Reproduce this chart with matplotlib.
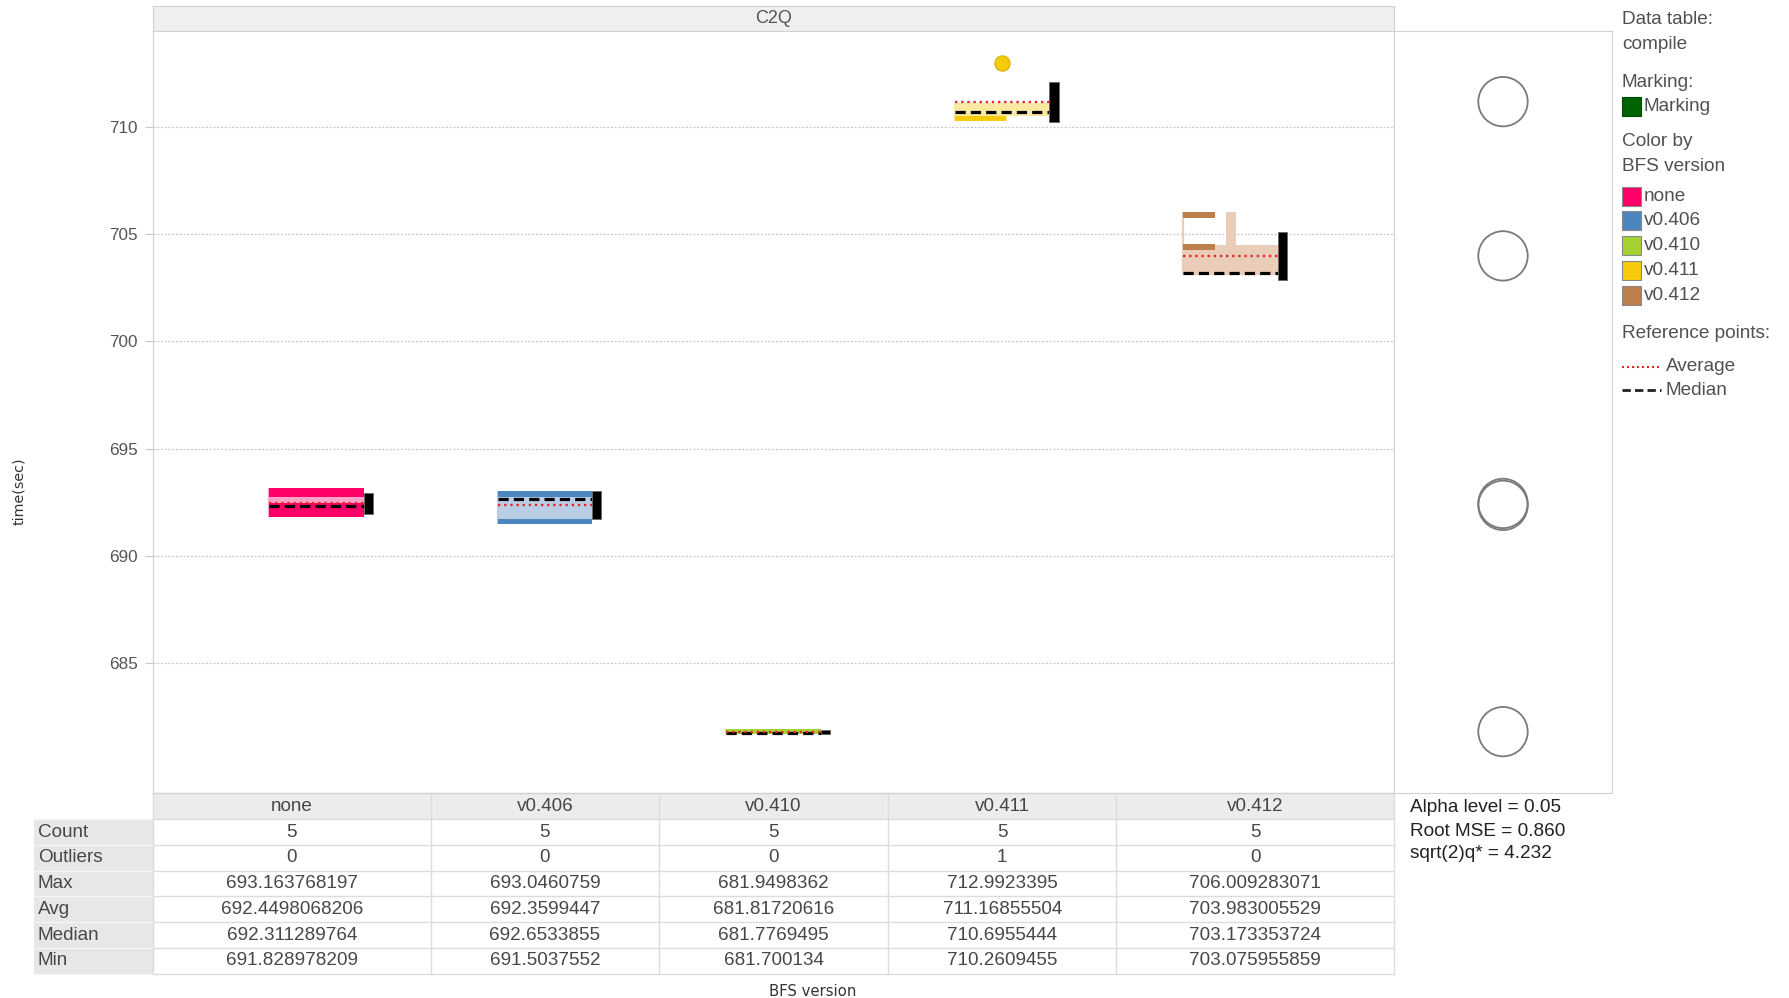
import numpy as np
import matplotlib
matplotlib.use("Agg")
import matplotlib.pyplot as plt
from matplotlib.patches import Rectangle, Circle
from matplotlib.lines import Line2D

plt.rcParams['font.family'] = ['Liberation Sans', 'DejaVu Sans']

W, H, DPI = 1790, 998, 100

# ---- data -----------------------------------------------------------------
versions = ["none", "v0.406", "v0.410", "v0.411", "v0.412"]
counts = [5, 5, 5, 5, 5]
outlier_counts = [0, 0, 0, 1, 0]
max_vals = [693.163768197, 693.0460759, 681.9498362, 712.9923395, 706.009283071]
avg_vals = [692.4498068206, 692.3599447, 681.81720616, 711.16855504, 703.983005529]
median_vals = [692.311289764, 692.6533855, 681.7769495, 710.6955444, 703.173353724]
min_vals = [691.828978209, 691.5037552, 681.700134, 710.2609455, 703.075955859]

# box body and whisker ends
box_low = [692.45, 691.72, 681.74, 710.50, 703.08]
box_high = [692.74, 692.74, 681.86, 711.12, 704.47]
upper_adjacent = [693.163768197, 693.0460759, 681.9498362, 711.12, 706.009283071]
outlier_vals = [[], [], [], [712.9923395], []]
# shaded value bands: (low, high, share of box width from its left edge)
value_bands = [
    [(691.83, 692.45, 1.0), (692.74, 693.16, 1.0)],
    [(691.50, 691.72, 1.0), (692.74, 693.05, 1.0)],
    [(681.70, 681.95, 1.0)],
    [(710.26, 710.50, 0.54)],
    [(704.27, 704.52, 0.33), (705.76, 706.01, 0.33)],
]
# half length of the black confidence bar around each mean
mean_ci_half = [0.47, 0.65, 0.09, 0.93, 1.12]

alpha_level = 0.05
root_mse = 0.860
sqrt2_q = 4.232

y_ticks = [685, 690, 695, 700, 705, 710]
row_names = ["Count", "Outliers", "Max", "Avg", "Median", "Min"]

main_colors = ["#FF0068", "#4C86BF", "#A6D132", "#F5CB0C", "#BD7F4C"]
light_colors = ["#FFA3C8", "#B9CEE5", "#C9E27A", "#FBE8A3", "#E9CDB8"]

# ---- helpers ----------------------------------------------------------------
fig = plt.figure(figsize=(W / DPI, H / DPI), dpi=DPI)


def rect_px(x0, y0, x1, y1):
    """Figure-fraction rectangle from pixel edges (y measured from top)."""
    return [x0 / W, 1 - y1 / H, (x1 - x0) / W, (y1 - y0) / H]


def ftext(x, y, s, **kw):
    kw.setdefault("va", "center")
    kw.setdefault("ha", "left")
    fig.text(x / W, 1 - y / H, s, **kw)


BORDER = "#D2D2D2"
TXT = "#474747"
TFS = 13.6

PLOT_L, PLOT_R, PLOT_T, PLOT_B = 153, 1394, 30.8, 793.4
XLIM = (-0.714, 4.714)
YLIM = (678.94, 714.47)
hw = 0.207

# ---- title strip --------------------------------------------------------------
ax_title = fig.add_axes(rect_px(PLOT_L, 5.7, PLOT_R, PLOT_T))
ax_title.set_facecolor("#EFEFEF")
ax_title.set_xticks([]); ax_title.set_yticks([])
for sp in ax_title.spines.values():
    sp.set_color(BORDER)
ax_title.text(0.5, 0.5, "C2Q", ha="center", va="center", fontsize=13,
              color="#555555", transform=ax_title.transAxes)

# ---- main box plot ------------------------------------------------------------
ax = fig.add_axes(rect_px(PLOT_L, PLOT_T, PLOT_R, PLOT_B))
ax.set_xlim(*XLIM)
ax.set_ylim(*YLIM)
ax.set_xticks([])
ax.set_yticks(y_ticks)
ax.set_yticklabels([str(t) for t in y_ticks])
ax.tick_params(axis="y", length=6, width=0.8, color="#C8C8C8", pad=5,
               labelsize=12.3, labelcolor="#555555")
for sp in ax.spines.values():
    sp.set_color(BORDER)
for t in y_ticks:
    ax.axhline(t, color="#C4C4C4", lw=0.9, ls=(0, (1.5, 1.5)), zorder=0)

for i, v in enumerate(versions):
    c = i
    mc, lc = main_colors[i], light_colors[i]
    # box body
    ax.add_patch(Rectangle((c - hw, box_low[i]), 2 * hw, box_high[i] - box_low[i],
                           fc=lc, ec="none", zorder=2))
    # whiskers
    ax.add_patch(Rectangle((c - 0.022, box_high[i]), 0.044,
                           upper_adjacent[i] - box_high[i], fc=lc, ec="none", zorder=2))
    ax.add_patch(Rectangle((c - 0.022, min_vals[i]), 0.044,
                           box_low[i] - min_vals[i], fc=lc, ec="none", zorder=2))
    ax.plot([c - hw, c - hw], [min_vals[i], upper_adjacent[i]], color=lc,
            lw=1.6, zorder=2, solid_capstyle="butt")
    # value bands
    for lo, hi, share in value_bands[i]:
        ax.add_patch(Rectangle((c - hw, lo), 2 * hw * share, hi - lo,
                               fc=mc, ec="none", zorder=3))
    # median and mean reference lines
    ax.plot([c - hw, c + hw], [median_vals[i]] * 2, color="black", lw=2.3,
            ls=(0, (3.2, 1.6)), zorder=5)
    ax.plot([c - hw, c + hw], [avg_vals[i]] * 2, color="#E8262A", lw=1.7,
            ls=(0, (1, 1.6)), zorder=5)
    # confidence bar of the mean
    ax.add_patch(Rectangle((c + hw, avg_vals[i] - mean_ci_half[i]), 0.04,
                           2 * mean_ci_half[i], fc="black", ec="#666666",
                           lw=0.6, zorder=6))
    # outliers
    if outlier_vals[i]:
        ax.scatter([c] * len(outlier_vals[i]), outlier_vals[i], s=120, c=mc,
                   edgecolors="#D9B000", linewidths=0.8, zorder=6)

ftext(19, 491, "time(sec)", rotation=90, ha="center", fontsize=10.3,
      color="#333333", family=["DejaVu Sans"])

# ---- comparison circles ---------------------------------------------------------
CIRC_L, CIRC_R = 1394, 1612
axc = fig.add_axes(rect_px(CIRC_L, PLOT_T, CIRC_R, PLOT_B))
axc.set_ylim(*YLIM)
px_per_unit = (PLOT_B - PLOT_T) / (YLIM[1] - YLIM[0])
half_w = (CIRC_R - CIRC_L) / px_per_unit / 2
axc.set_xlim(-half_w, half_w)
axc.set_xticks([]); axc.set_yticks([])
for sp in axc.spines.values():
    sp.set_color(BORDER)
for i in range(len(versions)):
    r = sqrt2_q / np.sqrt(2) * root_mse / np.sqrt(counts[i])
    axc.add_patch(Circle((0, avg_vals[i]), r, fc="none", ec="#7A7A7A", lw=1.3))

# ---- summary table ---------------------------------------------------------------
TAB_T, TAB_B = PLOT_B, 973.8
axt = fig.add_axes(rect_px(PLOT_L, TAB_T, PLOT_R, TAB_B))
axt.set_xlim(*XLIM)
axt.set_ylim(7, 0)
axt.axis("off")

edges = [XLIM[0], 0.5, 1.5, 2.5, 3.5, XLIM[1]]
centers = [(edges[k] + edges[k + 1]) / 2 for k in range(len(versions))]
unit_px = (PLOT_R - PLOT_L) / (XLIM[1] - XLIM[0])
label_w = (PLOT_L - 34) / unit_px
lab_x0 = XLIM[0] - label_w

axt.add_patch(Rectangle((XLIM[0], 0), XLIM[1] - XLIM[0], 1, fc="#ECECEC",
                        ec="none", clip_on=False))
axt.add_patch(Rectangle((lab_x0, 1), label_w, 6, fc="#E7E7E7", ec="none",
                        clip_on=False))
for r in range(1, 8):
    axt.plot([XLIM[0], XLIM[1]], [r, r], color="#DCDCDC", lw=1, clip_on=False)
    axt.plot([lab_x0, XLIM[0]], [r, r], color="#F6F6F6", lw=1, clip_on=False)
axt.plot([XLIM[0], XLIM[1]], [0, 0], color=BORDER, lw=1, clip_on=False)
for e in edges:
    axt.plot([e, e], [0, 7], color="#DCDCDC", lw=1, clip_on=False)

table_rows = [
    [str(v) for v in counts],
    [str(v) for v in outlier_counts],
    [str(v) for v in max_vals],
    [str(v) for v in avg_vals],
    [str(v) for v in median_vals],
    [str(v) for v in min_vals],
]
for k, v in enumerate(versions):
    axt.text(centers[k], 0.5, v, ha="center", va="center", fontsize=TFS,
             color=TXT, clip_on=False)
for r, (name, vals) in enumerate(zip(row_names, table_rows), start=1):
    axt.text(lab_x0 + 4 / unit_px, r + 0.5, name, ha="left", va="center",
             fontsize=TFS, color=TXT, clip_on=False)
    for k, s in enumerate(vals):
        axt.text(centers[k], r + 0.5, s, ha="center", va="center",
                 fontsize=TFS, color=TXT, clip_on=False)

ftext(813, 991, "BFS version", ha="center", fontsize=10.7, color="#333333",
      family=["DejaVu Sans"])

# statistics for the comparison circles
ftext(1410, 808, f"Alpha level = {alpha_level}", fontsize=13.7, color="#222222")
ftext(1410, 831, f"Root MSE = {root_mse:.3f}", fontsize=13.7, color="#222222")
ftext(1410, 854, f"sqrt(2)q* = {sqrt2_q:.3f}", fontsize=13.7, color="#222222")

# ---- legend -----------------------------------------------------------------------
LX = 1622
LEG = dict(fontsize=13.7, color="#505050")
ftext(LX, 19.4, "Data table:", **LEG)
ftext(LX, 44.5, "compile", **LEG)
ftext(LX, 82.2, "Marking:", **LEG)


def swatch(y, color, edge):
    fig.patches.append(Rectangle((LX / W, 1 - (y + 9.5) / H), 19 / W, 19 / H,
                                 fc=color, ec=edge, lw=0.8,
                                 transform=fig.transFigure, figure=fig))


swatch(106.2, "#006400", "#004A00")
ftext(LX + 22, 106.2, "Marking", **LEG)
ftext(LX, 141.6, "Color by", **LEG)
ftext(LX, 166.7, "BFS version", **LEG)
leg_y = [196.4, 220.3, 245.4, 270.6, 295.7]
for v, col, y in zip(versions, main_colors, leg_y):
    swatch(y, col, "#888888")
    ftext(LX + 22, y, v, **LEG)
ftext(LX, 333.3, "Reference points:", **LEG)
fig.lines.append(Line2D([LX / W, (LX + 39) / W], [1 - 366.5 / H] * 2,
                        color="#E8262A", lw=1.5, ls=(0, (1, 1.4)),
                        transform=fig.transFigure))
ftext(LX + 44, 366.5, "Average", **LEG)
fig.lines.append(Line2D([LX / W, (LX + 39) / W], [1 - 390.4 / H] * 2,
                        color="#222222", lw=2, ls=(0, (3, 1.5)),
                        transform=fig.transFigure))
ftext(LX + 44, 390.4, "Median", **LEG)

fig.savefig("out.png", dpi=DPI)
